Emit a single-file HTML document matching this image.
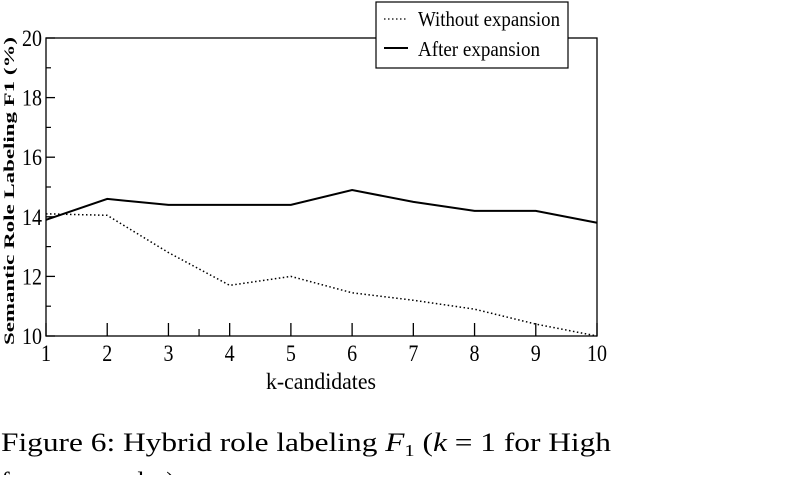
<!DOCTYPE html>
<html><head><meta charset="utf-8"><style>
body{margin:0;background:#fff;width:800px;height:475px;overflow:hidden}
svg text{font-family:"Liberation Serif",serif;fill:#000}
</style></head><body>
<svg id="chart" width="800" height="475" xmlns="http://www.w3.org/2000/svg">
<rect x="46" y="38" width="551" height="298" fill="none" stroke="#000" stroke-width="1.3"/>
<g id="ticks"></g>
<g id="series"></g>
<text transform="translate(14,191) rotate(-90)" text-anchor="middle" font-size="15" font-weight="bold" textLength="308" lengthAdjust="spacingAndGlyphs">Semantic Role Labeling F1 (%)</text>
<text x="321" y="389" text-anchor="middle" font-size="23" textLength="110" lengthAdjust="spacingAndGlyphs">k-candidates</text>
<g>
<rect x="376" y="2" width="192" height="66" fill="#fff" stroke="#000" stroke-width="1.2"/>
<line x1="384" y1="19" x2="408" y2="19" stroke="#000" stroke-width="1.3" stroke-dasharray="1.5,2.5"/>
<text x="418" y="26" font-size="21" textLength="142" lengthAdjust="spacingAndGlyphs">Without expansion</text>
<line x1="384" y1="48" x2="408" y2="48" stroke="#000" stroke-width="2"/>
<text x="418" y="56" font-size="21" textLength="122" lengthAdjust="spacingAndGlyphs">After expansion</text>
</g>
<text x="1" y="451" font-size="26" textLength="610" lengthAdjust="spacingAndGlyphs">Figure 6: Hybrid role labeling <tspan font-style="italic">F</tspan><tspan font-size="17" dy="5">1</tspan><tspan dy="-5"> (</tspan><tspan font-style="italic">k</tspan> = 1 for High</text>
<text x="1" y="490" font-size="26">frame examples)</text>
</svg>
<script>
const categories=[1,2,3,4,5,6,7,8,9,10];
const withoutExpansion=[14.1,14.05,12.8,11.7,12.0,11.45,11.2,10.9,10.4,10.0];
const afterExpansion=[13.9,14.6,14.4,14.4,14.4,14.9,14.5,14.2,14.2,13.8];
const yTicks=[10,12,14,16,18,20];
const NS="http://www.w3.org/2000/svg";
const xs=v=>46+(v-1)*(551/9);
const ys=v=>336-(v-10)*(298/10);
function mk(tag,attrs,parent){const e=document.createElementNS(NS,tag);for(const k in attrs)e.setAttribute(k,attrs[k]);parent.appendChild(e);return e;}
const tg=document.getElementById('ticks');
categories.forEach(c=>{
  const x=xs(c);
  const l=mk('line',{x1:x,y1:336,x2:x,y2:323,stroke:'#000','stroke-width':1.3},tg);
  
  
  const t=mk('text',{x:x,y:361,'text-anchor':'middle','font-size':23,textLength:String(c).length*10,lengthAdjust:'spacingAndGlyphs'},tg);
  
  
  t.textContent=c;
});
const mx=mk('line',{x1:xs(3.5),y1:336,x2:xs(3.5),y2:329,stroke:'#000','stroke-width':1.2},tg);


yTicks.forEach(v=>{
  const y=ys(v);
  const l=mk('line',{x1:46,y1:y,x2:55,y2:y,stroke:'#000','stroke-width':1.3},tg);
  
  
  const t=mk('text',{x:42,y:y+8,'text-anchor':'end','font-size':23,textLength:20,lengthAdjust:'spacingAndGlyphs'},tg);
  
  
  t.textContent=v;
  if(v<20){const m=mk('line',{x1:46,y1:ys(v+1),x2:51,y2:ys(v+1),stroke:'#000','stroke-width':1.2},tg);
  
  }
});
const sg=document.getElementById('series');
const p1=mk('polyline',{points:categories.map((c,i)=>xs(c)+','+ys(withoutExpansion[i])).join(' '),fill:'none',stroke:'#000','stroke-width':1.5,'stroke-dasharray':'1.5,2.5'},sg);


const p2=mk('polyline',{points:categories.map((c,i)=>xs(c)+','+ys(afterExpansion[i])).join(' '),fill:'none',stroke:'#000','stroke-width':2},sg);


</script>
</body></html>
